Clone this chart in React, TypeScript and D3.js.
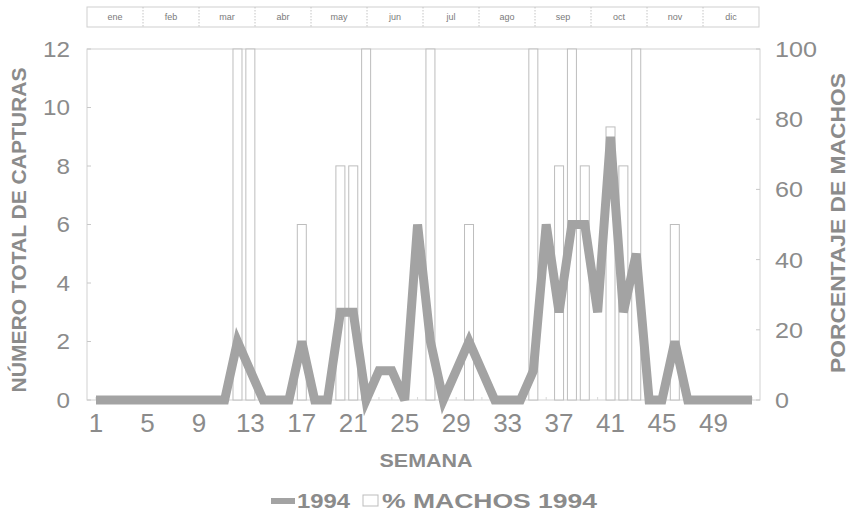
import React from "react";
import * as d3 from "d3";

const weeks: number[] = Array.from({ length: 52 }, (_, i) => i + 1);
const captures: number[] = [
  0, 0, 0, 0, 0, 0, 0, 0, 0, 0, 0, 2, 1, 0, 0, 0, 2, 0, 0, 3,
  3, 0, 1, 1, 0, 6, 2, 0, 1, 2, 1, 0, 0, 0, 1, 6, 3, 6, 6, 3,
  9, 3, 5, 0, 0, 2, 0, 0, 0, 0, 0, 0,
];
const malesWeeks: number[] = [12, 13, 17, 20, 21, 22, 27, 30, 35, 37, 38, 39, 41, 42, 43, 46];
const malesPct: number[] = [100, 100, 50, 66.7, 66.7, 100, 100, 50, 100, 66.7, 100, 66.7, 77.8, 66.7, 100, 50];
const months: string[] = ["ene", "feb", "mar", "abr", "may", "jun", "jul", "ago", "sep", "oct", "nov", "dic"];
const xTickWeeks: number[] = [1, 5, 9, 13, 17, 21, 25, 29, 33, 37, 41, 45, 49];
const leftTicks: number[] = [0, 2, 4, 6, 8, 10, 12];
const rightTicks: number[] = [0, 20, 40, 60, 80, 100];

const W = 853;
const H = 512;
const L = 87, R = 760, T = 49, B = 400;
const TXT = "#8b8b8b";
const FONT = "'Liberation Sans', Arial, Helvetica, sans-serif";

export default function App() {
  const x = d3.scalePoint<number>().domain(weeks).range([96, 752]);
  const yL = d3.scaleLinear().domain([0, 12]).range([B, T]);
  const yR = d3.scaleLinear().domain([0, 100]).range([B, T]);
  const line = d3
    .line<number>()
    .x((_, i) => x(weeks[i]) as number)
    .y((d) => yL(d));
  const bw = 9;
  const monthX = d3.scaleBand<string>().domain(months).range([L, 759]);

  return (
    <svg width={W} height={H} style={{ position: "absolute", left: 0, top: 0, background: "#fff" }}>
      <rect x={0} y={0} width={W} height={H} fill="#fff" />
      {/* month strip */}
      <rect x={L} y={7} width={759 - L} height={20} fill="none" stroke="#cfcfcf" strokeWidth={1} />
      {months.map((m, i) => (
        <g key={m}>
          {i > 0 && (
            <line
              x1={monthX(m)}
              x2={monthX(m)}
              y1={7}
              y2={27}
              stroke="#c4c4c4"
              strokeDasharray="1.5,1.5"
            />
          )}
          <text
            x={(monthX(m) as number) + monthX.bandwidth() / 2}
            y={20}
            textAnchor="middle"
            fontSize={9}
            fill="#7a7a7a"
            fontFamily={FONT}
          >
            {m}
          </text>
        </g>
      ))}
      {/* plot frame */}
      <rect x={L} y={T} width={R - L} height={B - T} fill="none" stroke="#d2d2d2" strokeWidth={1} />
      {leftTicks.map((t) => (
        <line key={"lt" + t} x1={L} x2={L + 4} y1={yL(t)} y2={yL(t)} stroke="#c8c8c8" />
      ))}
      {rightTicks.map((t) => (
        <line key={"rt" + t} x1={R - 4} x2={R} y1={yR(t)} y2={yR(t)} stroke="#c8c8c8" />
      ))}
      {weeks.map((w) => (
        <line key={"xt" + w} x1={x(w)} x2={x(w)} y1={B} y2={B - 3} stroke="#d8d8d8" />
      ))}
      {/* bars */}
      {malesWeeks.map((w, i) => (
        <rect
          key={"b" + w}
          x={(x(w) as number) - bw / 2}
          y={yR(malesPct[i])}
          width={bw}
          height={B - yR(malesPct[i])}
          fill="#fff"
          stroke="#bdbdbd"
          strokeWidth={1}
        />
      ))}
      {/* line */}
      <path
        d={line(captures) || ""}
        fill="none"
        stroke="#a3a3a3"
        strokeWidth={9}
        strokeLinejoin="miter"
        strokeMiterlimit={4}
      />
      {/* left tick labels */}
      {leftTicks.map((t) => (
        <text
          key={"ll" + t}
          x={70}
          y={yL(t)}
          dy="0.36em"
          textAnchor="end"
          fontSize={22}
          fill={TXT}
          fontFamily={FONT}
          textLength={String(t).length * 13.5}
          lengthAdjust="spacingAndGlyphs"
        >
          {t}
        </text>
      ))}
      {/* right tick labels */}
      {rightTicks.map((t) => (
        <text
          key={"rl" + t}
          x={775}
          y={yR(t)}
          dy="0.36em"
          textAnchor="start"
          fontSize={22}
          fill={TXT}
          fontFamily={FONT}
          textLength={String(t).length * 14}
          lengthAdjust="spacingAndGlyphs"
        >
          {t}
        </text>
      ))}
      {/* x tick labels */}
      {xTickWeeks.map((w) => (
        <text
          key={"xl" + w}
          x={x(w)}
          y={432}
          textAnchor="middle"
          fontSize={26}
          fill={TXT}
          fontFamily={FONT}
        >
          {w}
        </text>
      ))}
      {/* axis titles */}
      <text
        transform="translate(26,230) rotate(-90)"
        textAnchor="middle"
        fontSize={20}
        fontWeight="bold"
        fill={TXT}
        fontFamily={FONT}
        textLength={325}
        lengthAdjust="spacingAndGlyphs"
      >
        NÚMERO TOTAL DE CAPTURAS
      </text>
      <text
        transform="translate(845,223) rotate(-90)"
        textAnchor="middle"
        fontSize={20}
        fontWeight="bold"
        fill={TXT}
        fontFamily={FONT}
        textLength={300}
        lengthAdjust="spacingAndGlyphs"
      >
        PORCENTAJE DE MACHOS
      </text>
      <text
        x={426}
        y={467}
        textAnchor="middle"
        fontSize={19}
        fontWeight="bold"
        fill={TXT}
        fontFamily={FONT}
        textLength={93}
        lengthAdjust="spacingAndGlyphs"
      >
        SEMANA
      </text>
      {/* legend */}
      <line x1={271} x2={295} y1={501} y2={501} stroke="#a3a3a3" strokeWidth={6} />
      <text
        x={297}
        y={508}
        fontSize={21}
        fontWeight="bold"
        fill={TXT}
        fontFamily={FONT}
        textLength={53}
        lengthAdjust="spacingAndGlyphs"
      >
        1994
      </text>
      <rect x={363} y={495} width={15} height={11} fill="#fff" stroke="#bdbdbd" strokeWidth={1} />
      <text
        x={382}
        y={508}
        fontSize={21}
        fontWeight="bold"
        fill={TXT}
        fontFamily={FONT}
        textLength={215}
        lengthAdjust="spacingAndGlyphs"
      >
        % MACHOS 1994
      </text>
    </svg>
  );
}
